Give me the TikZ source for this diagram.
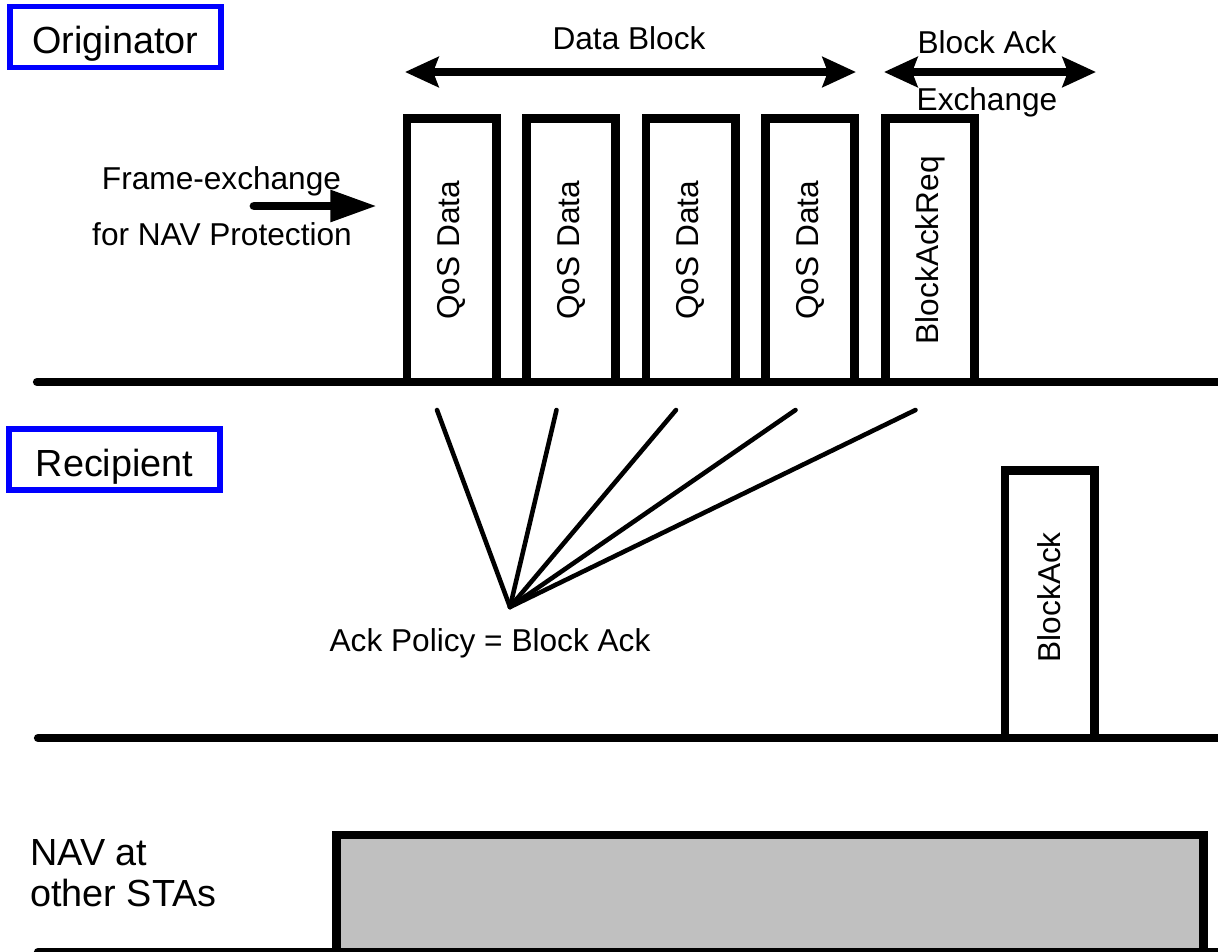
\documentclass[tikz,border=0pt]{standalone}
\usepackage{fontspec}
\setmainfont{Liberation Sans}
\usepackage{graphicx}
\usetikzlibrary{arrows.meta}
\definecolor{navgray}{RGB}{192,192,192}

\begin{document}
\begin{tikzpicture}[
    x=0.02cm, y=-0.02cm,
    stationbox/.style={draw=blue, line width=3.4pt, minimum width=4.22cm, minimum height=1.22cm, inner sep=0pt, text height=19pt, text depth=0pt, font=\fontsize{21.5}{25}\selectfont},
    framebox/.style={draw, line width=4.85pt, minimum width=1.79cm, minimum height=5.27cm, inner sep=0pt, outer sep=0pt, anchor=south, font=\fontsize{18}{21}\selectfont},
    timeline/.style={line width=4.7pt, line cap=round},
    spanarrow/.style={{Stealth[length=19pt, width=17pt, inset=3pt]}-{Stealth[length=19pt, width=17pt, inset=3pt]}, line width=4.5pt},
    pusharrow/.style={-{Triangle[length=26.5pt, width=17pt]}, line width=5pt, line cap=round},
    fanline/.style={line width=2.6pt, line cap=round},
    txt/.style={anchor=base, inner sep=0pt, font=\fontsize{18}{21}\selectfont}
]
\useasboundingbox (0,0) rectangle (1218,951);

% ===== Time lines =====
\draw[timeline] (37,382) -- (1218,382);
\draw[timeline] (38,738) -- (1218,738);
\draw[timeline] (38,952) -- (1218,952);

% ===== Originator =====
\node[stationbox] (orig) at (115.3,37) {Originator};

% Data frames
\node[framebox] (qos1) at (451.5,382) {\rotatebox{90}{QoS Data}};
\node[framebox] (qos2) at (571,382) {\rotatebox{90}{QoS Data}};
\node[framebox] (qos3) at (690.5,382) {\rotatebox{90}{QoS Data}};
\node[framebox] (qos4) at (810,382) {\rotatebox{90}{QoS Data}};
\node[framebox] (bar) at (930,382) {\rotatebox{90}{BlockAckReq}};

% Span arrows
\coordinate (db_l) at (405,72);
\coordinate (db_r) at (856,72);
\draw[spanarrow] (db_l) -- (db_r);
\node[txt] (db_lbl) at (629,49) {Data Block};

\coordinate (ba_l) at (884,72);
\coordinate (ba_r) at (1096,72);
\draw[spanarrow] (ba_l) -- (ba_r);
\node[txt] (ba_lbl) at (987,53) {Block Ack};
\node[txt] (ba_lbl2) at (987,110) {Exchange};

% Frame exchange arrow
\coordinate (fe_s) at (254,206);
\coordinate (fe_e) at (377,206);
\draw[pusharrow] (fe_s) -- (fe_e);
\node[txt] (fe_lbl) at (221.5,189) {Frame-exchange};
\node[txt] (fe_lbl2) at (222,245) {for NAV Protection};

% ===== Recipient =====
\node[stationbox] (recip) at (114.5,459.5) {Recipient};
\node[framebox, minimum height=5.35cm] (back) at (1049.5,738) {\rotatebox{90}{\hspace{8pt}BlockAck}};

% Ack policy fan
\coordinate (apex) at (510,607);
\draw[fanline] (apex) -- ([shift={(-14.5,28)}]qos1.south);
\draw[fanline] (apex) -- ([shift={(-14.5,28)}]qos2.south);
\draw[fanline] (apex) -- ([shift={(-14.5,28)}]qos3.south);
\draw[fanline] (apex) -- ([shift={(-14.5,28)}]qos4.south);
\draw[fanline] (apex) -- ([shift={(-14.5,28)}]bar.south);
\node[txt] (policy) at (490,651) {Ack Policy = Block Ack};

% ===== NAV at other STAs =====
\node[draw, fill=navgray, line width=4.95pt, minimum width=17.34cm, minimum height=2.34cm, inner sep=0pt, outer sep=0pt, anchor=south west] (nav) at (336.7,952) {};
\node[anchor=base west, align=left, inner sep=0pt, font=\fontsize{21.5}{22.8}\selectfont] (navlbl) at (30,906) {NAV at\\other STAs};

\end{tikzpicture}
\end{document}
